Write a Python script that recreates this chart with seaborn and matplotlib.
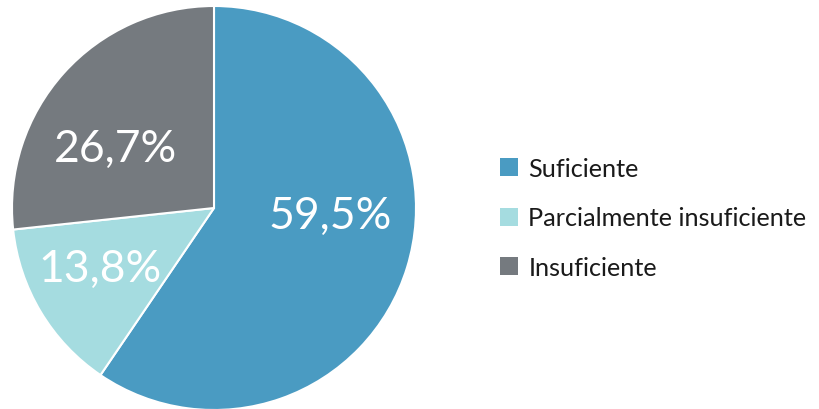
import matplotlib
matplotlib.use("Agg")
import matplotlib.pyplot as plt
import seaborn as sns
import numpy as np
from matplotlib.patches import Patch

categories = ["Suficiente", "Parcialmente insuficiente", "Insuficiente"]
shares = [59.5, 13.8, 26.7]
colors = ["#4A9BC2", "#A5DCE0", "#757A7F"]

# label placement inside each wedge (angle in degrees, radius fraction)
label_angles = [-3.5, 208.0, 149.0]
label_radii = [0.575, 0.64, 0.57]

sns.set_theme(style="white")
plt.rcParams["font.family"] = ["Lato", "DejaVu Sans"]

fig = plt.figure(figsize=(8.19, 4.10), dpi=100)
W, H = 819, 410
cx, cy, r = 214, 209, 202
ax = fig.add_axes([(cx - r) / W, (H - cy - r) / H, 2 * r / W, 2 * r / H])

wedges, _ = ax.pie(
    shares,
    colors=colors,
    startangle=90,
    counterclock=False,
    wedgeprops=dict(edgecolor="white", linewidth=1.5),
)
ax.set_xlim(-1, 1)
ax.set_ylim(-1, 1)
ax.set_aspect("equal")
ax.axis("off")

for val, ang, rad in zip(shares, label_angles, label_radii):
    t = np.deg2rad(ang)
    ax.text(rad * np.cos(t), rad * np.sin(t), f"{val:.1f}%".replace(".", ","),
            ha="center", va="center", color="white", fontsize=32)

handles = [Patch(facecolor=c, edgecolor="none") for c in colors]
fig.legend(handles, categories, loc="center left",
           bbox_to_anchor=(490 / W, 1 - 219 / H), frameon=False,
           fontsize=18.2, handlelength=0.72, handleheight=0.72,
           handletextpad=0.4, labelspacing=1.05, borderaxespad=0,
           labelcolor="#1a1a1a")

fig.savefig("out.png", dpi=100)
